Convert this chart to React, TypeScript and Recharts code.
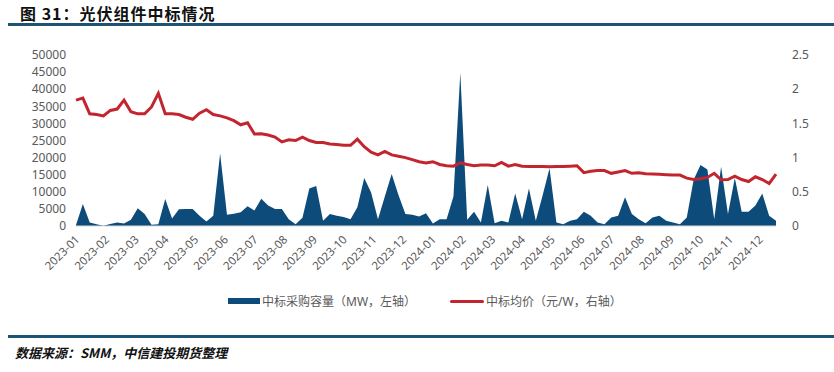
import React from 'react';
import { ComposedChart, Area, Line, XAxis, YAxis } from 'recharts';

// weekly bid capacity (MW), 2023-01 .. 2024-12
const capacity = [
  300, 6400, 1000, 500, 100, 600, 1000, 700, 1800, 5200,
  3500, 400, 500, 7900, 2200, 4900, 5000, 5000, 3000, 1300,
  3000, 21200, 3300, 3600, 4000, 5800, 4500, 8000, 6000, 5000,
  5000, 2000, 500, 2400, 11000, 11700, 1500, 3500, 3000, 2600,
  2000, 5500, 14000, 9800, 2000, 8600, 15200, 9000, 3500, 3300,
  2800, 3700, 700, 2000, 2000, 8600, 44800, 1800, 4200, 1000,
  12000, 800, 1500, 1000, 9500, 2000, 11000, 1500, 9000, 16900,
  1000, 500, 1500, 2000, 4200, 3000, 1000, 500, 2500, 3000,
  8400, 3500, 2000, 800, 2500, 3000, 1500, 1000, 500, 2500,
  13500, 17800, 16500, 2000, 17300, 3500, 14000, 4200, 4200, 6000,
  9500, 3000, 1500,
];

// weekly average bid price (yuan/W)
const price = [
  1.84, 1.87, 1.64, 1.63, 1.61, 1.69, 1.71, 1.84, 1.67, 1.64,
  1.64, 1.74, 1.94, 1.64, 1.64, 1.63, 1.59, 1.56, 1.65, 1.7,
  1.63, 1.61, 1.58, 1.54, 1.48, 1.51, 1.345, 1.35, 1.33, 1.3,
  1.23, 1.26, 1.25, 1.3, 1.25, 1.22, 1.22, 1.2, 1.19, 1.18,
  1.18, 1.27, 1.16, 1.08, 1.04, 1.09, 1.04, 1.02, 1.0, 0.97,
  0.94, 0.92, 0.94, 0.9, 0.88, 0.875, 0.925, 0.9, 0.88, 0.89,
  0.89, 0.88, 0.93, 0.875, 0.9, 0.875, 0.87, 0.87, 0.87, 0.865,
  0.87, 0.87, 0.875, 0.88, 0.78, 0.8, 0.81, 0.81, 0.77, 0.79,
  0.81, 0.77, 0.78, 0.765, 0.76, 0.755, 0.75, 0.745, 0.745, 0.7,
  0.68, 0.69, 0.71, 0.77, 0.675, 0.68, 0.73, 0.68, 0.65, 0.72,
  0.68, 0.62, 0.76,
];

const months = [
  '2023-01', '2023-02', '2023-03', '2023-04', '2023-05', '2023-06',
  '2023-07', '2023-08', '2023-09', '2023-10', '2023-11', '2023-12',
  '2024-01', '2024-02', '2024-03', '2024-04', '2024-05', '2024-06',
  '2024-07', '2024-08', '2024-09', '2024-10', '2024-11', '2024-12',
];

const leftTicks = [0, 5000, 10000, 15000, 20000, 25000, 30000, 35000, 40000, 45000, 50000];
const rightTicks = [0, 0.5, 1, 1.5, 2, 2.5];

const data = capacity.map((v, i) => ({ week: i, capacity: v, price: price[i] }));
const monthTicks = months.map((_, m) => m * 4.33);

const FONT = '"Noto Sans", "Noto Sans CJK SC", sans-serif';
const BLUE = '#0D4C7A';
const RED = '#C3252F';

const MonthTick = ({ x, y, payload }: any) => {
  const idx = monthTicks.indexOf(payload.value);
  return (
    <g transform={`translate(${x},${y + 2})`}>
      <text
        textAnchor="end"
        transform="rotate(-45)"
        dy={6}
        fontSize={11.5}
        fill="#595959"
        fontFamily={FONT}
      >
        {months[idx]}
      </text>
    </g>
  );
};

export default function App() {
  return (
    <div style={{ position: 'absolute', left: 0, top: 0, width: 834, height: 372, background: '#fff', fontFamily: FONT }}>
      <div
        style={{
          position: 'absolute',
          left: 20,
          top: 1,
          fontSize: 16,
          fontWeight: 'bold',
          color: '#111',
          fontFamily: '"Noto Sans CJK SC", sans-serif',
          letterSpacing: 1,
        }}
      >
        图 31：光伏组件中标情况
      </div>
      <div style={{ position: 'absolute', left: 8, top: 23, width: 826, height: 3, background: '#1D5375' }} />

      <ComposedChart
        width={834}
        height={372}
        data={data}
        margin={{ top: 55, right: 18, bottom: 96, left: 0 }}
        style={{ position: 'absolute', left: 0, top: 0 }}
      >
        <XAxis
          dataKey="week"
          type="number"
          domain={[0, capacity.length - 1]}
          ticks={monthTicks}
          tick={<MonthTick />}
          tickLine={false}
          axisLine={{ stroke: '#d9d9d9' }}
          interval={0}
          height={50}
        />
        <YAxis
          yAxisId="left"
          domain={[0, 50000]}
          ticks={leftTicks}
          interval={0}
          width={76}
          tickLine={false}
          axisLine={false}
          tick={{ fontSize: 12, fill: '#595959', fontFamily: FONT }}
          tickMargin={4}
        />
        <YAxis
          yAxisId="right"
          orientation="right"
          domain={[0, 2.5]}
          ticks={rightTicks}
          interval={0}
          width={40}
          tickLine={false}
          axisLine={false}
          tick={{ fontSize: 12, fill: '#595959', fontFamily: FONT, textAnchor: 'start' }}
          tickMargin={10}
        />
        <Area
          yAxisId="left"
          type="linear"
          dataKey="capacity"
          stroke="none"
          fill={BLUE}
          fillOpacity={1}
          isAnimationActive={false}
        />
        <Line
          yAxisId="right"
          type="linear"
          dataKey="price"
          stroke={RED}
          strokeWidth={3}
          dot={false}
          isAnimationActive={false}
        />
      </ComposedChart>

      <div style={{ position: 'absolute', left: 228, top: 292, display: 'flex', alignItems: 'center', fontSize: 12, color: '#595959' }}>
        <span style={{ display: 'inline-block', width: 32, height: 6, background: BLUE, marginRight: 2 }} />
        <span>中标采购容量（MW，左轴）</span>
        <span style={{ display: 'inline-block', width: 34, height: 3, background: RED, marginLeft: 34, marginRight: 2, borderRadius: 2 }} />
        <span>中标均价（元/W，右轴）</span>
      </div>

      <div style={{ position: 'absolute', left: 8, top: 335, width: 826, height: 3, background: '#1D5375' }} />
      <div
        style={{
          position: 'absolute',
          left: 15,
          top: 343,
          fontSize: 13,
          fontWeight: 'bold',
          fontStyle: 'italic',
          color: '#111',
          fontFamily: '"Noto Sans CJK SC", serif',
        }}
      >
        数据来源：SMM，中信建投期货整理
      </div>
    </div>
  );
}
